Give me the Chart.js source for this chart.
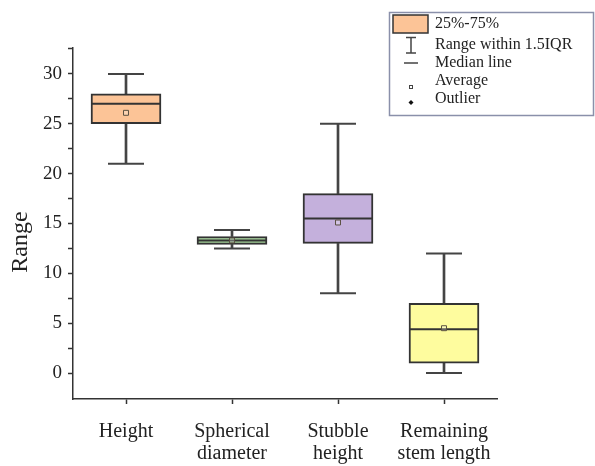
<!DOCTYPE html>
<html>
<head>
<meta charset="utf-8">
<script src="https://cdn.jsdelivr.net/npm/chart.js@4/dist/chart.umd.min.js"></script>
<style>
  html, body { margin: 0; padding: 0; background: #fff; }
  #wrap { width: 595px; height: 466px; }
</style>
</head>
<body>
<div id="wrap"><canvas id="boxChart" width="595" height="466"></canvas></div>
<script>
// Box plot data
const categories = [["Height"], ["Spherical", "diameter"], ["Stubble", "height"], ["Remaining", "stem length"]];
const whiskerMin = [21, 12.5, 8, 0];
const q1 = [25, 12.9, 13, 1];
const median = [27, 13.3, 15.5, 4.4];
const q3 = [28, 13.7, 18, 7];
const whiskerMax = [30, 14.35, 25, 12];
const average = [26.1, 13.3, 15.1, 4.5];
const boxColors = ["#fcc497", "#a6d49b", "#c4b0dc", "#fefc9e"];
// major ticks get a label, minor ones (x.5) only a mark
const yTicks = [0, 2.5, 5, 7.5, 10, 12.5, 15, 17.5, 20, 22.5, 25, 27.5, 30, 32.5];

const serif = "'Liberation Serif', 'Times New Roman', serif";
const ink = "#222";
const lineCol = "#444";

// Y title + custom legend
const extras = {
  id: "extras",
  afterDraw(chart) {
    const ctx = chart.ctx;
    ctx.save();
    // y axis title
    ctx.translate(21, 242);
    ctx.rotate(-Math.PI / 2);
    ctx.fillStyle = ink;
    ctx.font = "24px " + serif;
    ctx.textAlign = "center";
    ctx.textBaseline = "middle";
    ctx.fillText("Range", 0, 0);
    ctx.restore();

    ctx.save();
    ctx.strokeStyle = "#8a90aa";
    ctx.lineWidth = 1.5;
    ctx.strokeRect(389.5, 12.5, 204, 103);

    // 25%-75% swatch
    ctx.fillStyle = boxColors[0];
    ctx.fillRect(393, 15, 35, 18);
    ctx.strokeStyle = "#333";
    ctx.lineWidth = 1.5;
    ctx.strokeRect(393, 15, 35, 18);

    ctx.strokeStyle = lineCol;
    ctx.beginPath();
    // whisker icon
    ctx.moveTo(411, 37); ctx.lineTo(411, 53);
    ctx.moveTo(406, 37.5); ctx.lineTo(416, 37.5);
    ctx.moveTo(406, 53); ctx.lineTo(416, 53);
    // median line
    ctx.moveTo(404, 63); ctx.lineTo(418, 63);
    ctx.stroke();
    // average
    ctx.lineWidth = 1;
    ctx.strokeRect(409.5, 85.5, 3, 3);
    // outlier
    ctx.fillStyle = "#111";
    ctx.beginPath();
    ctx.moveTo(411, 100); ctx.lineTo(413.5, 102.5); ctx.lineTo(411, 105); ctx.lineTo(408.5, 102.5);
    ctx.closePath();
    ctx.fill();

    ctx.fillStyle = ink;
    ctx.font = "16px " + serif;
    ctx.textBaseline = "middle";
    const rows = ["25%-75%", "Range within 1.5IQR", "Median line", "Average", "Outlier"];
    const ys = [24, 45, 63, 81, 99];
    rows.forEach((t, i) => ctx.fillText(t, 435, ys[i]));
    ctx.restore();
  },
};

const ctx = document.getElementById("boxChart").getContext("2d");

const boxChart = new Chart(ctx, {
  type: "bar",
  data: {
    labels: categories,
    datasets: [
      {
        label: "lower whisker",
        data: whiskerMin.map((v, i) => [v, q1[i]]),
        backgroundColor: lineCol,
        borderWidth: 0,
        barThickness: 2,
        grouped: false,
        order: 5,
      },
      {
        label: "upper whisker",
        data: whiskerMax.map((v, i) => [q3[i], v]),
        backgroundColor: lineCol,
        borderWidth: 0,
        barThickness: 2,
        grouped: false,
        order: 5,
      },
      {
        label: "25%-75%",
        data: q1.map((v, i) => [v, q3[i]]),
        backgroundColor: boxColors,
        borderColor: "#333",
        borderWidth: 2,
        borderSkipped: false,
        barThickness: 70,
        grouped: false,
        order: 4,
      },
      {
        type: "line",
        label: "max cap",
        data: whiskerMax,
        showLine: false,
        pointStyle: "line",
        pointRadius: 18,
        borderColor: lineCol,
        borderWidth: 2,
        order: 3,
      },
      {
        type: "line",
        label: "min cap",
        data: whiskerMin,
        showLine: false,
        pointStyle: "line",
        pointRadius: 18,
        borderColor: lineCol,
        borderWidth: 2,
        order: 3,
      },
      {
        type: "line",
        label: "Median line",
        data: median,
        showLine: false,
        pointStyle: "line",
        pointRadius: 34,
        borderColor: "#333",
        borderWidth: 2,
        order: 1,
      },
      {
        type: "line",
        label: "Average",
        data: average,
        showLine: false,
        pointStyle: "rect",
        pointRadius: 3.5,
        pointBackgroundColor: "rgba(255,255,255,0.25)",
        pointBorderColor: "#5a5040",
        pointBorderWidth: 1,
        order: 0,
      },
    ],
  },
  options: {
    responsive: false,
    animation: false,
    layout: { padding: { left: 0, right: 98, top: 48, bottom: 0 } },
    plugins: {
      legend: { display: false },
      tooltip: { enabled: false },
    },
    scales: {
      x: {
        offset: true,
        afterFit: (s) => { s.height = 67; },
        border: { display: true, color: "#333", width: 1.5 },
        grid: { display: true, offset: false, drawOnChartArea: false, tickLength: 5, color: "#333", tickWidth: 1.5 },
        ticks: {
          color: ink,
          font: { family: serif, size: 20, lineHeight: 1.1 },
          padding: 17,
          maxRotation: 0,
          autoSkip: false,
        },
      },
      y: {
        min: -2.6,
        max: 32.6,
        afterFit: (s) => { s.width = 73; },
        afterBuildTicks: (s) => { s.ticks = yTicks.map((v) => ({ value: v })); },
        border: { display: true, color: "#333", width: 1.5 },
        grid: { display: true, drawOnChartArea: false, tickLength: 5, color: "#333", tickWidth: 1.5 },
        ticks: {
          autoSkip: false,
          color: ink,
          font: { family: serif, size: 19 },
          padding: 6,
          callback: (v) => (v % 5 === 0 ? String(v) : ""),
        },
      },
    },
  },
  plugins: [extras],
});
</script>
</body>
</html>
